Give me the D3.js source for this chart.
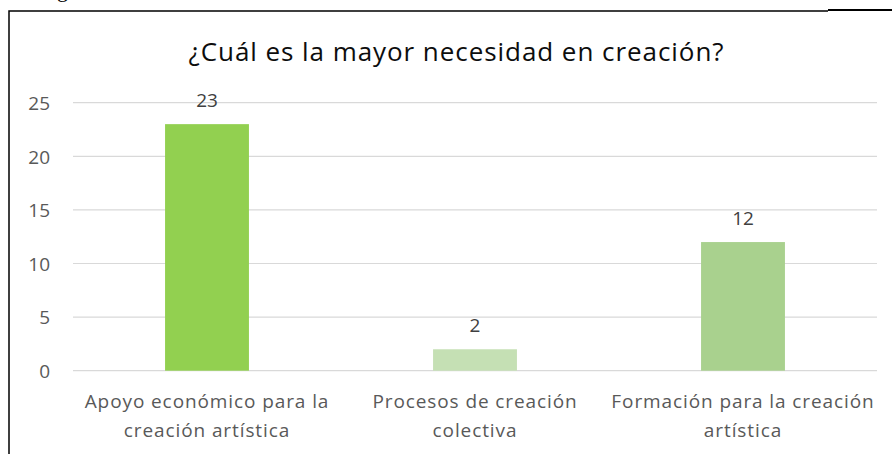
<!DOCTYPE html>
<html>
<head>
<meta charset="utf-8">
<script src="https://cdn.jsdelivr.net/npm/d3@7"></script>
<style>
  body { margin: 0; background: #fff; }
  svg { display: block; font-family: "Open Sans", sans-serif; }
</style>
</head>
<body>
<div id="chart"></div>
<script>
// data
var categories = ["Apoyo económico para la\ncreación artística", "Procesos de creación\ncolectiva", "Formación para la creación\nartística"];
var values = [23, 2, 12];
var barColors = ["#92d050", "#c5e0b4", "#a9d18e"];
var yTicks = [0, 5, 10, 15, 20, 25];
var title = "¿Cuál es la mayor necesidad en creación?";

var width = 892, height = 454;
var plot = { left: 73, right: 877, top: 102.7, bottom: 370.7 };

var svg = d3.select("#chart").append("svg")
  .attr("width", width).attr("height", height);

// cut-off caption letter and frame
svg.append("text").attr("x", 57).attr("y", -3)
  .style("font-family", "Liberation Serif").style("font-size", "22px")
  .text("g");
svg.append("path").attr("d", "M9,454V11H828").attr("fill", "none")
  .attr("stroke", "#000").attr("stroke-width", 1.5);
svg.append("line").attr("x1", 828).attr("x2", 892).attr("y1", 10).attr("y2", 10)
  .attr("stroke", "#000").attr("stroke-width", 2);

var x = d3.scaleBand().domain(categories).range([plot.left, plot.right]).paddingInner(0.687).paddingOuter(0.3435);
var y = d3.scaleLinear().domain([0, 25]).range([plot.bottom, plot.top]);

// gridlines
svg.append("g").selectAll("line").data(yTicks).join("line")
  .attr("x1", plot.left).attr("x2", plot.right)
  .attr("y1", d => y(d)).attr("y2", d => y(d))
  .attr("stroke", "#d9d9d9").attr("stroke-width", 1.2);

// y axis labels
var yAxis = svg.append("g").attr("transform", "translate(" + (plot.left - 23) + ",0)")
  .call(d3.axisLeft(y).tickValues(yTicks).tickSize(0).tickPadding(0));
yAxis.select(".domain").remove();
yAxis.selectAll("text").attr("fill", "#595959").style("font-size", "19px")
  .style("font-family", "Open Sans").attr("dy", "0.36em");

// bars
svg.append("g").selectAll("rect").data(values).join("rect")
  .attr("x", (d, i) => x(categories[i]))
  .attr("width", x.bandwidth())
  .attr("y", d => y(d))
  .attr("height", d => y(0) - y(d))
  .attr("fill", (d, i) => barColors[i]);

// data labels
svg.append("g").selectAll("text").data(values).join("text")
  .attr("x", (d, i) => x(categories[i]) + x.bandwidth() / 2)
  .attr("y", d => y(d) - 17)
  .attr("text-anchor", "middle")
  .attr("fill", "#404040").style("font-size", "19px")
  .text(d => d);

// category labels
var xl = svg.append("g").selectAll("text").data(categories).join("text")
  .attr("text-anchor", "middle")
  .attr("fill", "#595959").style("font-size", "19px").style("letter-spacing", "0.9px");
xl.each(function (d) {
  var t = d3.select(this);
  d.split("\n").forEach(function (line, k) {
    t.append("tspan").attr("x", x(d) + x.bandwidth() / 2).attr("y", 408 + k * 29).text(line);
  });
});

// title
svg.append("text").attr("x", 456).attr("y", 61).attr("text-anchor", "middle")
  .attr("fill", "#0d0d0d").style("font-size", "26px")
  .attr("textLength", 535).attr("lengthAdjust", "spacing")
  .text(title);
</script>
</body>
</html>
